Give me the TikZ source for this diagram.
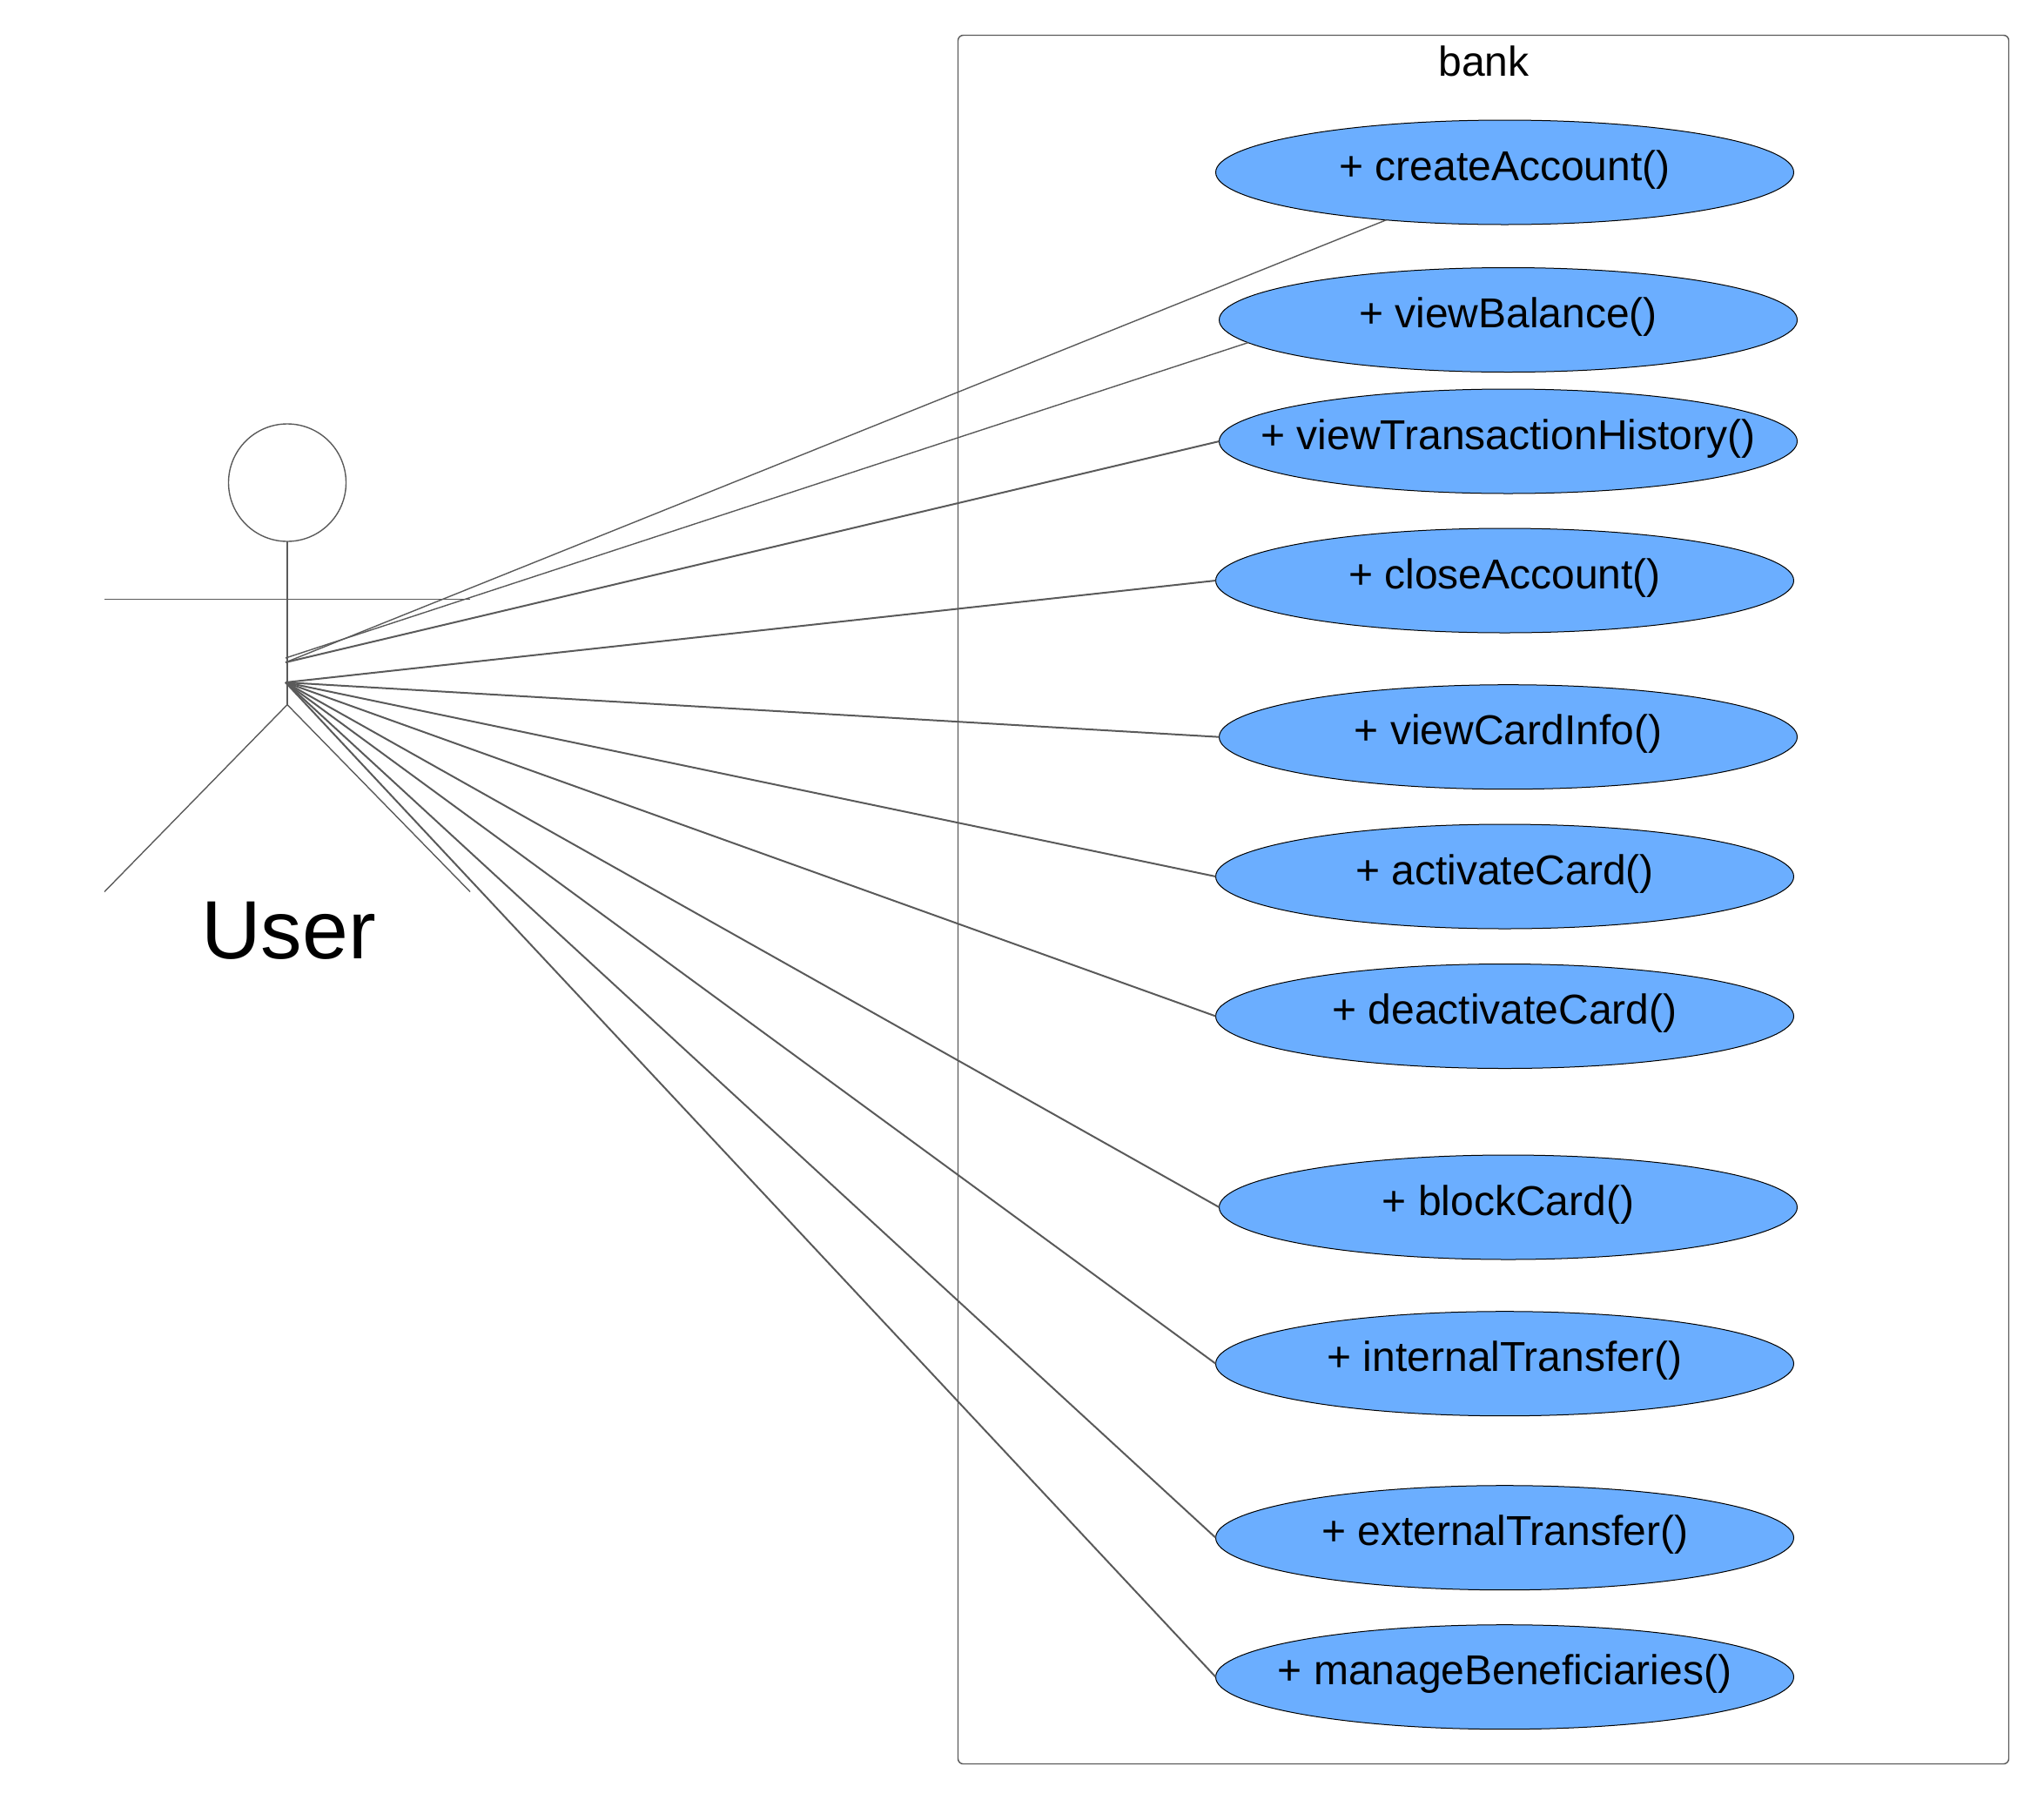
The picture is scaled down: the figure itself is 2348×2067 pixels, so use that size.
\documentclass[tikz,border=0pt]{standalone}
\usepackage{fontspec}
\setmainfont{Liberation Sans}
\usetikzlibrary{shapes.geometric}
\definecolor{caseblue}{HTML}{6BAEFF}
\definecolor{linegray}{HTML}{5A5A5A}
\tikzset{
    usecase/.style={draw=black,line width=1pt,fill=caseblue,ellipse,inner ysep=0pt,inner xsep=-60pt,outer sep=0pt,
        minimum width=664pt,minimum height=120pt,text height=36pt,text depth=18pt,
        font=\fontsize{48}{58}\selectfont},
    assoc/.style={draw=linegray,line width=2pt},
    thinassoc/.style={draw=linegray,line width=1.4pt},
    figure/.style={draw=linegray,line width=1.4pt},
}
\begin{document}
\begin{tikzpicture}[x=1pt,y=-1pt]
        \useasboundingbox (0,0) rectangle (2348,2067);
        \node[figure,rounded corners=6pt,minimum width=1207pt,minimum height=1986pt,inner sep=0pt,outer sep=0pt] (bank) at (1704,1033.5) {};
        \node[anchor=base,inner sep=0pt,font=\fontsize{48}{58}\selectfont] (bankLabel) at (1704.5,87.5) {bank};
        \node[figure,circle,minimum size=135pt,inner sep=0pt,outer sep=0pt] (head) at (330,554.5) {};
        \coordinate (hip) at (330,809.6);
        \coordinate (armLeft) at (120,688.7);
        \coordinate (armRight) at (540,688.7);
        \coordinate (footLeft) at (120,1024.5);
        \coordinate (footRight) at (540,1024.5);
        \coordinate (handUp) at (328,756);
        \coordinate (handMid) at (328,761);
        \coordinate (hand) at (328,784);
        \node[anchor=base,inner sep=0pt,font=\fontsize{95}{114}\selectfont] (user) at (331.5,1101) {User};
        \draw[figure] (head.south) -- (hip);
        \draw[figure] (armLeft) -- (armRight);
        \draw[figure] (hip) -- (footLeft);
        \draw[figure] (hip) -- (footRight);
        \node[usecase] (createAccount) at (1728.5,198) {+ createAccount()};
        \node[usecase] (viewBalance) at (1732.5,367.5) {+ viewBalance()};
        \node[usecase] (viewTransactionHistory) at (1732.5,507) {+ viewTransactionHistory()};
        \node[usecase] (closeAccount) at (1728.5,667) {+ closeAccount()};
        \node[usecase] (viewCardInfo) at (1732.5,846.7) {+ viewCardInfo()};
        \node[usecase] (activateCard) at (1728.5,1007) {+ activateCard()};
        \node[usecase] (deactivateCard) at (1728.5,1167.5) {+ deactivateCard()};
        \node[usecase] (blockCard) at (1732.5,1387) {+ blockCard()};
        \node[usecase] (internalTransfer) at (1728.5,1566.7) {+ internalTransfer()};
        \node[usecase] (externalTransfer) at (1728.5,1766.7) {+ externalTransfer()};
        \node[usecase] (manageBeneficiaries) at (1728.5,1926.7) {+ manageBeneficiaries()};
        \draw[thinassoc] (handMid) -- (createAccount);
        \draw[thinassoc] (handUp) -- (viewBalance.185);
        \draw[assoc] (handMid) -- (viewTransactionHistory.west);
        \draw[assoc] (hand) -- (closeAccount.west);
        \draw[assoc] (hand) -- (viewCardInfo.west);
        \draw[assoc] (hand) -- (activateCard.west);
        \draw[assoc] (hand) -- (deactivateCard.west);
        \draw[assoc] (hand) -- (blockCard.west);
        \draw[assoc] (hand) -- (internalTransfer.west);
        \draw[assoc] (hand) -- (externalTransfer.west);
        \draw[assoc] (hand) -- (manageBeneficiaries.west);
    \end{tikzpicture}
\end{document}
